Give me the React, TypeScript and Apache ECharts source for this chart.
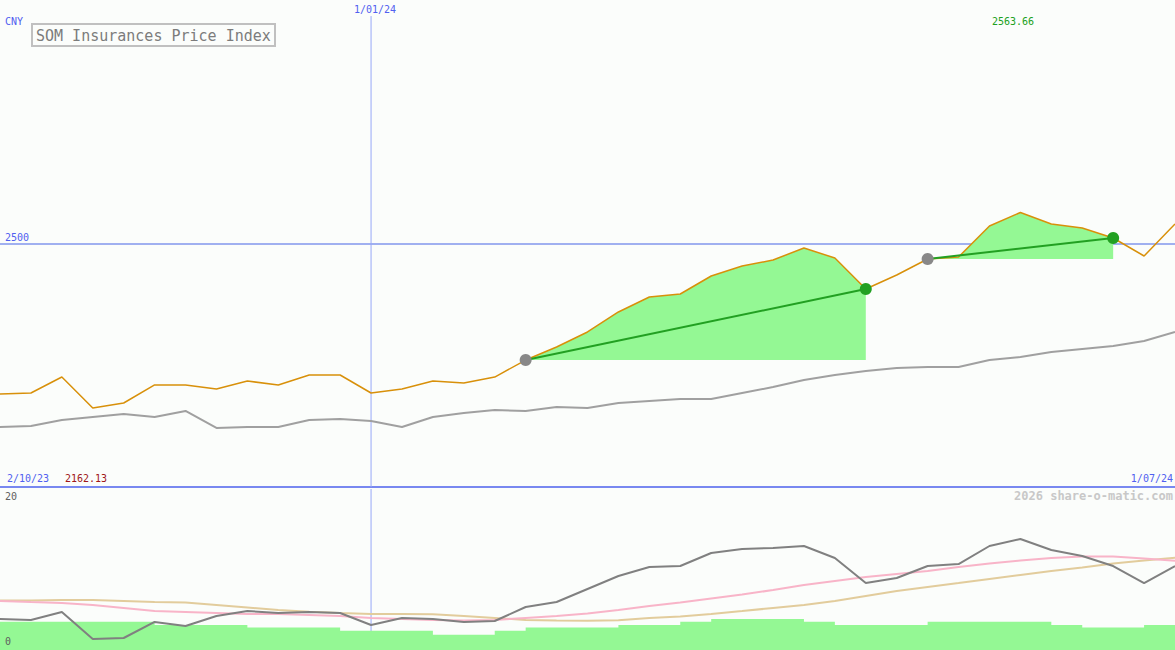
import React, { useEffect, useRef } from 'react';
import * as echarts from 'echarts';

// ---- data ----
const dates = [
  '9/10/23', '16/10/23', '23/10/23', '30/10/23', '6/11/23', '13/11/23', '20/11/23', '27/11/23',
  '4/12/23', '11/12/23', '18/12/23', '25/12/23', '1/01/24', '8/01/24', '15/01/24', '22/01/24',
  '29/01/24', '5/02/24', '12/02/24', '19/02/24', '26/02/24', '4/03/24', '11/03/24', '18/03/24',
  '25/03/24', '1/04/24', '8/04/24', '15/04/24', '22/04/24', '29/04/24', '6/05/24', '13/05/24',
  '20/05/24', '27/05/24', '3/06/24', '10/06/24', '17/06/24', '24/06/24', '1/07/24',
];
const price = [
  2190.9, 2193.0, 2225.8, 2162.13, 2172.5, 2209.5, 2209.5, 2201.2, 2217.6, 2209.5,
  2230.0, 2230.0, 2193.0, 2201.2, 2217.6, 2213.5, 2225.8, 2260.7, 2287.5, 2318.3,
  2359.4, 2390.2, 2396.3, 2433.3, 2453.8, 2466.1, 2490.8, 2470.2, 2406.6, 2435.3,
  2468.2, 2472.3, 2536.0, 2563.66, 2540.0, 2531.8, 2511.3, 2474.3, 2540.0,
];
const average = [
  2123.2, 2125.3, 2137.6, 2143.7, 2149.9, 2143.7, 2156.1, 2121.2, 2123.2, 2123.2,
  2137.6, 2139.6, 2135.5, 2123.2, 2143.7, 2152.0, 2158.1, 2156.1, 2164.3, 2162.2,
  2172.5, 2176.6, 2180.7, 2180.7, 2193.0, 2205.3, 2219.7, 2230.0, 2238.2, 2244.4,
  2246.4, 2246.4, 2260.8, 2267.0, 2277.2, 2283.4, 2289.5, 2299.8, 2318.3,
];
const oscillator = [
  3.85, 3.73, 4.72, 1.37, 1.49, 3.48, 2.98, 4.22, 4.84, 4.60,
  4.72, 4.60, 3.11, 3.98, 3.85, 3.48, 3.60, 5.34, 5.96, 7.58,
  9.19, 10.31, 10.43, 12.05, 12.55, 12.67, 12.92, 11.43, 8.32, 8.94,
  10.43, 10.68, 12.92, 13.79, 12.42, 11.68, 10.43, 8.32, 10.43,
];
const oscFast = [
  6.09, 5.96, 5.84, 5.59, 5.22, 4.84, 4.72, 4.60, 4.47, 4.47,
  4.35, 4.22, 3.98, 3.85, 3.73, 3.66, 3.73, 3.98, 4.22, 4.53,
  4.97, 5.47, 5.90, 6.40, 6.89, 7.45, 8.07, 8.57, 9.07, 9.44,
  9.81, 10.31, 10.75, 11.12, 11.43, 11.61, 11.61, 11.37, 11.09,
];
const oscSlow = [
  6.15, 6.15, 6.21, 6.21, 6.09, 5.96, 5.90, 5.59, 5.28, 4.97,
  4.76, 4.60, 4.47, 4.47, 4.43, 4.22, 3.98, 3.73, 3.66, 3.64,
  3.69, 3.98, 4.16, 4.47, 4.84, 5.22, 5.59, 6.09, 6.71, 7.33,
  7.83, 8.32, 8.82, 9.32, 9.81, 10.25, 10.75, 11.12, 11.47,
];
const volume = [
  3.5, 3.5, 3.5, 3.5, 3.5, 3.1, 3.1, 3.1, 2.8, 2.8,
  2.8, 2.4, 2.4, 2.4, 1.9, 1.9, 2.4, 2.8, 2.8, 2.8,
  3.1, 3.1, 3.5, 3.85, 3.85, 3.85, 3.5, 3.1, 3.1, 3.1,
  3.5, 3.5, 3.5, 3.5, 3.1, 2.8, 2.8, 3.1, 3.1,
];
const signalStarts = [17, 30];
const signalEnds = [28, 36];
const refLevel = 2500;
const markDate = '1/01/24';
const rangeStart = '2/10/23';
const rangeEnd = '1/07/24';
const currency = 'CNY';
const titleText = 'SOM Insurances Price Index';
const watermark = '2026 share-o-matic.com';
const priceAxis = [2000, 3000];
const oscAxis = [0, 20];

const MONO = 'DejaVu Sans Mono';
const BLUE_TXT = '#5060f0';
const GREEN_FILL = '#94f894';
const VLINE = '#98a8f8';

function buildOption() {
  const maxP = Math.max(...price);
  const minP = Math.min(...price);
  const markIdx = dates.indexOf(markDate);
  const series: any[] = [];

  // vertical date marker drawn as a two-point line series in each grid
  series.push({
    type: 'line', xAxisIndex: 0, yAxisIndex: 0, z: 1, symbol: 'none', silent: true,
    data: [[markIdx, priceAxis[0]], [markIdx, 2967]],
    lineStyle: { color: VLINE, width: 1 },
  });
  series.push({
    type: 'line', xAxisIndex: 1, yAxisIndex: 1, z: 1, symbol: 'none', silent: true,
    data: [[markIdx, oscAxis[0]], [markIdx, oscAxis[1]]],
    lineStyle: { color: VLINE, width: 1 },
  });

  series.push({
    type: 'line', name: 'avg', xAxisIndex: 0, yAxisIndex: 0, data: average,
    symbol: 'none', z: 2, lineStyle: { color: '#a0a0a0', width: 2 },
    markLine: {
      silent: true, symbol: 'none', z: 1, animation: false,
      data: [
        {
          yAxis: refLevel,
          lineStyle: { color: '#a0b0f0', width: 2, type: 'solid' },
          label: {
            show: true, position: 'insideStartTop', formatter: String(refLevel),
            color: BLUE_TXT, fontFamily: MONO, fontSize: 10, distance: [5, 1],
          },
        },
      ],
    },
  });

  signalStarts.forEach((s, k) => {
    const e = signalEnds[k];
    const base = price.map((p, i) => (i >= s && i <= e ? price[s] : '-'));
    const diff = price.map((p, i) => (i >= s && i <= e ? p - price[s] : '-'));
    series.push({
      type: 'line', xAxisIndex: 0, yAxisIndex: 0, stack: 'sig' + k, data: base,
      symbol: 'none', z: 3, lineStyle: { width: 0, opacity: 0 },
    });
    series.push({
      type: 'line', xAxisIndex: 0, yAxisIndex: 0, stack: 'sig' + k, data: diff,
      symbol: 'none', z: 3, lineStyle: { width: 0, opacity: 0 },
      areaStyle: { color: GREEN_FILL, opacity: 1 },
    });
  });

  series.push({
    type: 'line', name: 'price', xAxisIndex: 0, yAxisIndex: 0, data: price,
    symbol: 'none', z: 4, lineStyle: { color: '#d8900a', width: 1.5 },
  });

  signalStarts.forEach((s, k) => {
    const e = signalEnds[k];
    const d = price.map((p, i) => {
      if (i === s) return { value: p, itemStyle: { color: '#888888' } };
      if (i === e) return { value: p, itemStyle: { color: '#22a022' } };
      return '-';
    });
    series.push({
      type: 'line', xAxisIndex: 0, yAxisIndex: 0, data: d, connectNulls: true,
      symbol: 'circle', symbolSize: 12, showSymbol: true, showAllSymbol: true, z: 5,
      lineStyle: { color: '#22a022', width: 2 },
    });
  });

  series.push({
    type: 'line', xAxisIndex: 1, yAxisIndex: 1, data: volume, step: 'end',
    symbol: 'none', z: 2, lineStyle: { width: 0, opacity: 0 },
    areaStyle: { color: GREEN_FILL, opacity: 1 },
  });
  series.push({
    type: 'line', xAxisIndex: 1, yAxisIndex: 1, data: oscSlow, symbol: 'none', z: 3,
    lineStyle: { color: '#e2cc9c', width: 2 },
  });
  series.push({
    type: 'line', xAxisIndex: 1, yAxisIndex: 1, data: oscFast, symbol: 'none', z: 4,
    lineStyle: { color: '#f8b4c8', width: 2 },
  });
  series.push({
    type: 'line', xAxisIndex: 1, yAxisIndex: 1, data: oscillator, symbol: 'none', z: 5,
    lineStyle: { color: '#808080', width: 2 },
  });

  const txt = (text: string, x: number, y: number, fill: string, extra: any = {}) => ({
    type: 'text', x, y, z: 100, silent: true,
    style: { text, fill, font: `10px "${MONO}"`, verticalAlign: 'middle', ...extra },
  });

  return {
    animation: false,
    backgroundColor: '#fbfdfb',
    title: {
      text: titleText, left: 32, top: 24, borderColor: '#c0c0c0', borderWidth: 2,
      padding: [3, 4, 2, 4],
      textStyle: { fontFamily: MONO, fontSize: 15, fontWeight: 'normal', color: '#7c7c7c', lineHeight: 17 },
    },
    grid: [
      { left: 0, right: 0, top: 0, height: 487, containLabel: false },
      { left: 0, right: 0, top: 489, height: 161, containLabel: false },
    ],
    xAxis: [
      {
        type: 'category', gridIndex: 0, data: dates, boundaryGap: false,
        axisLine: { show: true, onZero: false, lineStyle: { color: '#7888f0', width: 2 } },
        axisTick: { show: false }, axisLabel: { show: false }, splitLine: { show: false },
      },
      {
        type: 'category', gridIndex: 1, data: dates, boundaryGap: false,
        axisLine: { show: false }, axisTick: { show: false }, axisLabel: { show: false },
        splitLine: { show: false },
      },
    ],
    yAxis: [
      { type: 'value', gridIndex: 0, min: priceAxis[0], max: priceAxis[1], show: false, splitLine: { show: false } },
      { type: 'value', gridIndex: 1, min: oscAxis[0], max: oscAxis[1], show: false, splitLine: { show: false } },
    ],
    series,
    graphic: [
      txt(currency, 5, 21, BLUE_TXT),
      txt(markDate, 375, 9, BLUE_TXT, { align: 'center' }),
      txt(maxP.toFixed(2), 992, 21, '#20a020'),
      txt(rangeStart, 7, 478, BLUE_TXT),
      txt(minP.toFixed(2), 65, 478, '#a01818'),
      txt(rangeEnd, 1173, 478, BLUE_TXT, { align: 'right' }),
      txt(watermark, 1173, 496, '#c8c8c8', { align: 'right', font: `bold 12px "${MONO}"` }),
      txt(String(oscAxis[1]), 5, 496, '#606060'),
      txt(String(oscAxis[0]), 5, 641, '#606060'),
    ],
  };
}

export default function App() {
  const ref = useRef<HTMLDivElement>(null);
  useEffect(() => {
    document.body.style.margin = '0';
    if (!ref.current) return;
    const chart = echarts.init(ref.current, undefined, { renderer: 'svg' });
    chart.setOption(buildOption() as any);
    return () => chart.dispose();
  }, []);
  return <div ref={ref} style={{ width: 1175, height: 650 }} />;
}
